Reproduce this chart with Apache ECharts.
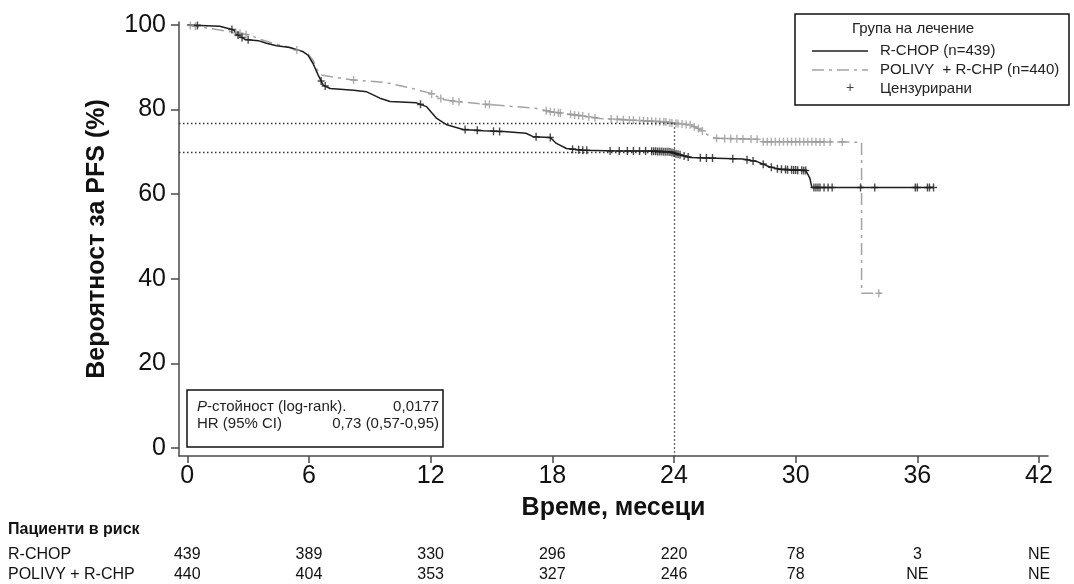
<!DOCTYPE html>
<html><head><meta charset="utf-8">
<script src="https://cdn.jsdelivr.net/npm/echarts@6/dist/echarts.min.js"></script>
<style>html,body{margin:0;padding:0;background:#fff}#c{width:1074px;height:584px}</style>
</head><body><div id="c"></div>
<script>
// ---- data ----
const xTicks = [0, 6, 12, 18, 24, 30, 36, 42];
const yTicks = [0, 20, 40, 60, 80, 100];

const rchopTime = [0,1.6,2.3,2.4,2.85,3.5,3.9,4.4,5.06,5.7,5.95,6.2,6.45,6.7,7.04,8.2,8.85,9.5,10,11.3,11.8,12.3,12.8,13.6,14.6,15.6,16.7,17.05,17.9,18.2,18.7,19.5,21.2,22.8,23.8,24.3,24.8,26.1,27.4,28.1,28.7,29.2,30.5,30.7,30.8,36.8];
const rchopSurv = [100,99.7,98.8,97.9,96.6,96.3,95.7,95.1,94.7,93.7,92.9,90.9,88.2,85.8,85,84.6,84.2,82.7,81.9,81.6,80.7,77.9,76.4,75.3,75,74.8,74.4,73.6,73.4,72,70.8,70.4,70.2,70.2,70.0,69.3,68.7,68.5,68.3,67.7,66.5,65.9,65.6,63.8,61.6,61.6];

const polivyTime = [0,0.6,1.6,2.4,3.1,3.6,4.2,4.9,5.4,5.9,6.2,6.4,6.6,7.04,8.2,9.8,11.1,11.97,12.6,13.3,14.6,16.2,17.2,17.9,18.7,19.5,20.35,22,23.5,24,24.8,25.3,25.8,26.1,28.1,28.4,30.2,33.25,33.25,34.2];
const polivySurv = [100,99.6,98.8,98.2,97.6,96.6,95.7,94.9,94.1,93.5,91.7,89.4,88.2,87.8,87,86.4,85,83.9,82.4,81.9,81.3,80.7,80.3,79.5,79,78.5,77.9,77.5,77.1,76.8,76.4,75.3,73.6,73.2,73,72.4,72.4,72.3,36.6,36.6];

const rchopCensored = [0.5,2.2,2.5,2.7,3.0,6.6,6.8,11.5,13.7,14.3,15.1,15.4,17.2,17.9,19.0,19.3,19.5,19.7,20.85,21.3,21.7,22.0,22.3,22.6,22.9,23.0,23.1,23.2,23.3,23.4,23.5,23.6,23.7,23.8,23.9,24.0,24.1,24.2,24.3,24.5,24.7,25.3,25.6,25.9,26.9,27.6,27.9,28.4,28.8,29.1,29.3,29.5,29.6,29.8,29.9,30.0,30.1,30.3,30.4,30.5,30.9,31.0,31.1,31.2,31.4,31.6,31.8,33.2,33.9,35.9,36.0,36.5,36.6,36.8];
const polivyCensored = [0.15,0.4,2.4,2.6,2.9,5.4,8.2,12.05,12.5,13.1,13.4,14.7,14.9,17.7,17.9,18.1,18.3,18.4,18.9,19.1,19.3,19.5,19.8,20.1,20.9,21.2,21.5,21.8,22.0,22.3,22.5,22.7,22.9,23.1,23.3,23.5,23.6,23.8,23.9,24.1,24.2,24.4,24.6,24.8,25.0,25.2,25.4,26.1,26.5,26.8,27.1,27.4,27.8,28.1,28.4,28.6,28.8,29.0,29.2,29.4,29.6,29.8,30.0,30.2,30.4,30.6,30.8,31.0,31.2,31.4,31.7,32.3,34.1];

const landmarkTime = 24;
const landmarkPolivy = 76.8;
const landmarkRchop = 70.0;

const riskLabels = ['R-CHOP', 'POLIVY + R-CHP'];
const riskRchop = ['439','389','330','296','220','78','3','NE'];
const riskPolivy = ['440','404','353','327','246','78','NE','NE'];

// ---- helpers ----
function zip(t, s) { return t.map((v, i) => [v, s[i]]); }
function survAt(t, times, surv) {
  let y = surv[0];
  for (let i = 0; i < times.length; i++) {
    if (times[i] <= t) { y = surv[i]; }
    if (i + 1 < times.length && times[i] <= t && t < times[i + 1]) {
      const t0 = times[i], t1 = times[i + 1];
      if (t1 === t0) return surv[i + 1];
      return surv[i] + (surv[i + 1] - surv[i]) * (t - t0) / (t1 - t0);
    }
  }
  return y;
}
const FONT = "'Liberation Sans', Arial, sans-serif";
const X_MIN = -0.409, X_MAX = 42.444, Y_MIN = -1.89, Y_MAX = 100.71;
const plusPath = 'path://M4,0 H6 V4 H10 V6 H6 V10 H4 V6 H0 V4 H4 Z';

const chart = echarts.init(document.getElementById('c'), null, { renderer: 'canvas' });

const axisColor = '#4a4a4a';
const option = {
  animation: false,
  backgroundColor: '#fff',
  textStyle: { fontFamily: FONT },
  grid: { left: 179, right: 26, top: 22, bottom: 128, containLabel: false },
  xAxis: {
    type: 'value', min: X_MIN, max: X_MAX,
    splitLine: { show: false },
    axisLine: { show: true, onZero: false, lineStyle: { color: axisColor, width: 1.5 } },
    axisTick: { show: true, customValues: xTicks, length: 7, lineStyle: { color: axisColor, width: 1.5 } },
    axisLabel: { customValues: xTicks, fontSize: 25, color: '#111', margin: 8, fontFamily: FONT },
    name: 'Време, месеци', nameLocation: 'middle', nameGap: 40,
    nameTextStyle: { fontSize: 25, fontWeight: 'bold', color: '#111', fontFamily: FONT }
  },
  yAxis: {
    type: 'value', min: Y_MIN, max: Y_MAX,
    splitLine: { show: false },
    axisLine: { show: true, onZero: false, lineStyle: { color: axisColor, width: 1.5 } },
    axisTick: { show: true, customValues: yTicks, length: 8, lineStyle: { color: axisColor, width: 1.5 } },
    axisLabel: { customValues: yTicks, fontSize: 25, color: '#111', margin: 13, fontFamily: FONT },
    name: 'Вероятност за PFS (%)', nameLocation: 'middle', nameGap: 69,
    nameTextStyle: { fontSize: 25, fontWeight: 'bold', color: '#111', fontFamily: FONT }
  },
  series: [
    {
      name: 'POLIVY + R-CHP', type: 'line', data: zip(polivyTime, polivySurv),
      showSymbol: false, symbol: 'none', z: 2,
      lineStyle: { color: '#a3a3a3', width: 1.5, type: [12, 5, 3, 5] }
    },
    {
      name: 'R-CHOP', type: 'line', data: zip(rchopTime, rchopSurv),
      showSymbol: false, symbol: 'none', z: 3,
      lineStyle: { color: '#1e1e1e', width: 1.5 },
      markLine: {
        silent: true, symbol: 'none', label: { show: false },
        lineStyle: { color: '#333', width: 1.3, type: [1.5, 2.5] },
        data: [
          [{ coord: [X_MIN, landmarkPolivy] }, { coord: [landmarkTime, landmarkPolivy] }],
          [{ coord: [X_MIN, landmarkRchop] }, { coord: [landmarkTime, landmarkRchop] }],
          [{ coord: [landmarkTime, landmarkPolivy] }, { coord: [landmarkTime, Y_MIN] }]
        ]
      }
    },
    {
      name: 'POLIVY censored', type: 'scatter', z: 4,
      data: polivyCensored.map(t => [t, survAt(t, polivyTime, polivySurv)]),
      symbol: plusPath, symbolSize: [7, 8], itemStyle: { color: '#9a9a9a' }
    },
    {
      name: 'R-CHOP censored', type: 'scatter', z: 5,
      data: rchopCensored.map(t => [t, survAt(t, rchopTime, rchopSurv)]),
      symbol: plusPath, symbolSize: [7, 8], itemStyle: { color: '#1e1e1e' }
    }
  ]
};
chart.setOption(option);

// ---- graphics: legend, stats box, risk table ----
const g = [];
const F15 = '15px ' + FONT;
// legend box
g.push({ type: 'rect', shape: { x: 795, y: 14, width: 274, height: 91 }, style: { fill: '#fff', stroke: '#111', lineWidth: 1.5 }, z: 10 });
g.push({ type: 'text', x: 852, y: 29, style: { text: 'Група на лечение', font: F15, fill: '#222', textVerticalAlign: 'middle' }, z: 11 });
g.push({ type: 'line', shape: { x1: 812, y1: 51, x2: 868, y2: 51 }, style: { stroke: '#1e1e1e', lineWidth: 1.5 }, z: 11 });
g.push({ type: 'text', x: 880, y: 51, style: { text: 'R-CHOP (n=439)', font: F15, fill: '#222', textVerticalAlign: 'middle' }, z: 11 });
g.push({ type: 'line', shape: { x1: 812, y1: 70, x2: 868, y2: 70 }, style: { stroke: '#a3a3a3', lineWidth: 1.5, lineDash: [12, 5, 3, 5] }, z: 11 });
g.push({ type: 'text', x: 880, y: 70, style: { text: 'POLIVY  + R-CHP (n=440)', font: F15, fill: '#222', textVerticalAlign: 'middle' }, z: 11 });
g.push({ type: 'text', x: 850, y: 88, style: { text: '+', font: '14px ' + FONT, fill: '#444', textAlign: 'center', textVerticalAlign: 'middle' }, z: 11 });
g.push({ type: 'text', x: 880, y: 89, style: { text: 'Цензурирани', font: F15, fill: '#222', textVerticalAlign: 'middle' }, z: 11 });

// stats box
g.push({ type: 'rect', shape: { x: 187, y: 390, width: 256, height: 57 }, style: { fill: '#fff', stroke: '#111', lineWidth: 1.5 }, z: 10 });
g.push({ type: 'text', x: 197, y: 407, style: { text: '{i|P}-стойност (log-rank).', font: F15, fill: '#222', textVerticalAlign: 'middle', rich: { i: { fontStyle: 'italic', fontSize: 15, fontFamily: FONT, fill: '#222' } } }, z: 11 });
g.push({ type: 'text', x: 439, y: 407, style: { text: '0,0177', font: F15, fill: '#222', textAlign: 'right', textVerticalAlign: 'middle' }, z: 11 });
g.push({ type: 'text', x: 197, y: 424, style: { text: 'HR (95% CI)', font: F15, fill: '#222', textVerticalAlign: 'middle' }, z: 11 });
g.push({ type: 'text', x: 439, y: 424, style: { text: '0,73 (0,57-0,95)', font: F15, fill: '#222', textAlign: 'right', textVerticalAlign: 'middle' }, z: 11 });

// risk table
g.push({ type: 'text', x: 8, y: 530, style: { text: 'Пациенти в риск', font: 'bold 16px ' + FONT, fill: '#111', textVerticalAlign: 'middle' } });
const rows = [riskRchop, riskPolivy];
const rowY = [555, 575];
rows.forEach((row, r) => {
  g.push({ type: 'text', x: 8, y: rowY[r], style: { text: riskLabels[r], font: '16px ' + FONT, fill: '#111', textVerticalAlign: 'middle' } });
  row.forEach((v, i) => {
    const px = chart.convertToPixel({ xAxisIndex: 0 }, xTicks[i]);
    g.push({ type: 'text', x: px, y: rowY[r], style: { text: v, font: '16px ' + FONT, fill: '#111', textAlign: 'center', textVerticalAlign: 'middle' } });
  });
});
chart.setOption({ graphic: g });
</script>
</body></html>
